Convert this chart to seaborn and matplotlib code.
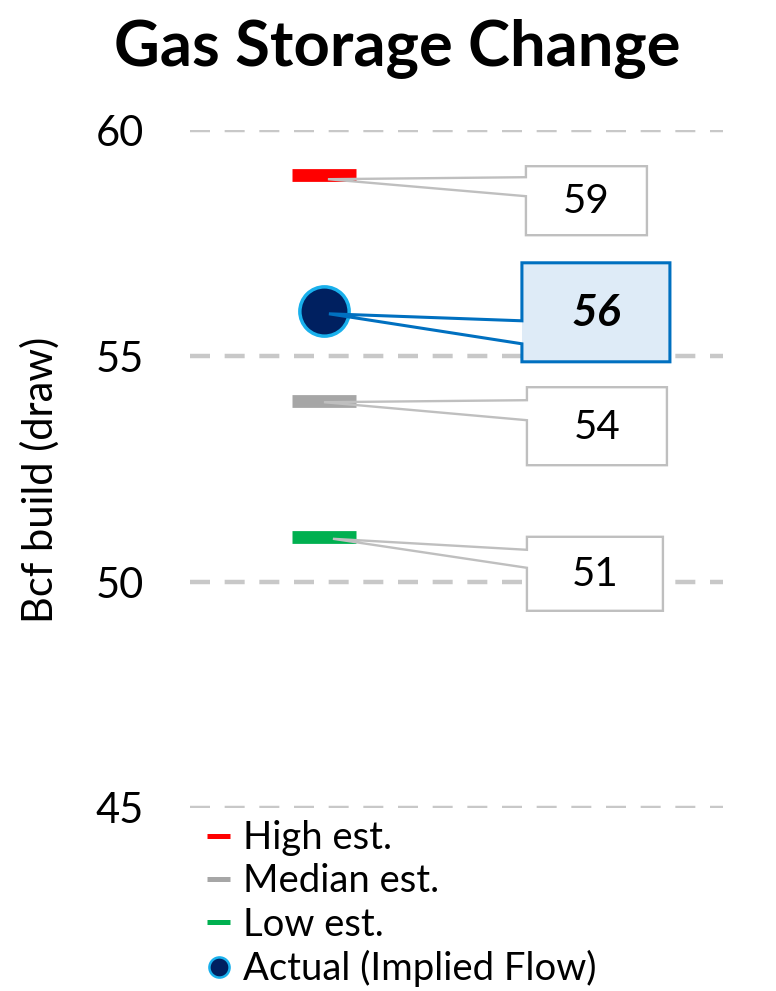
import matplotlib
matplotlib.use("Agg")
import matplotlib.pyplot as plt
import matplotlib.transforms as mtransforms
from matplotlib.patches import Polygon
from matplotlib.lines import Line2D
import seaborn as sns
import pandas as pd

# ---------------- data ----------------
series = ["High est.", "Median est.", "Low est.", "Actual (Implied Flow)"]
values = [59, 54, 51, 56]
value_labels = ["59", "54", "51", "56"]
colors = ["#FF0000", "#A6A6A6", "#00B050", "#002060"]
yticks = [45, 50, 55, 60]
title = "Gas Storage Change"
ylabel = "Bcf build (draw)"

# ---------------- style ----------------
sns.set_theme(style="white")
plt.rcParams["font.family"] = ["Lato", "DejaVu Sans"]
plt.rcParams["text.color"] = "black"
plt.rcParams["ytick.color"] = "black"
plt.rcParams["ytick.labelcolor"] = "black"

W, H = 776, 991
fig = plt.figure(figsize=(W / 100, H / 100), dpi=100)
ax_left, ax_right, ax_top, ax_bot = 190, 723, 130, 808
ax = fig.add_axes([ax_left / W, 1 - ax_bot / H, (ax_right - ax_left) / W, (ax_bot - ax_top) / H])

df = pd.DataFrame({"series": series, "value": values, "x": [0] * len(series)})

# estimate bars (horizontal dash markers)
for i in range(3):
    row = df.iloc[[i]]
    sns.scatterplot(data=row, x="x", y="value", marker="_", s=46 ** 2,
                    color=colors[i], edgecolor=colors[i], linewidth=9.2,
                    legend=False, ax=ax, zorder=2)
# actual point
sns.scatterplot(data=df.iloc[[3]], x="x", y="value", marker="o", s=35.5 ** 2,
                color=colors[3], edgecolor="#19B0EC", linewidth=2.5,
                legend=False, ax=ax, zorder=2)

ax.set_ylim(45, 60)
ax.set_xlim(-1, 2.98)
ax.set_yticks(yticks)
ax.set_yticklabels([str(t) for t in yticks], fontsize=30, color="black")
ax.set_xticks([])
ax.set_xlabel("")
ax.set_ylabel("")
ax.tick_params(axis="y", length=0, pad=33)
for s in ax.spines.values():
    s.set_visible(False)
ax.set_axisbelow(True)
ax.yaxis.grid(True, color="#C8C8C8", linewidth=3.2, linestyle=(0, (4.5, 3.3)))
ax.xaxis.grid(False)
ax.patch.set_alpha(0)

# ---------------- callouts (pixel offsets from each point) ----------------
# (anchor_dx, anchor_dy, box_x0, box_x1, box_top, box_bot, wedge_top, wedge_bot)
callout_geom = [
    (4, -4, 202, 323, 9, -60, -2, -21),
    (0, -1, 203, 343, 14, -64, 1, -19),
    (9, -2, 203, 339, 0, -74, -13, -31),
    (5, -3, 198, 346, 48, -51, -10, -33),
]
for i, v in enumerate(values):
    ax0, ay0, bx0, bx1, bt, bb, wt, wb = callout_geom[i]
    trans = mtransforms.Affine2D() + mtransforms.ScaledTranslation(0, v, ax.transData)
    verts = [(ax0, ay0), (bx0, wt), (bx0, bt), (bx1, bt), (bx1, bb), (bx0, bb), (bx0, wb)]
    if i == 3:
        face, edge, lw = "#DEEBF7", "#0070C0", 2.2
    else:
        face, edge, lw = "white", "#BFBFBF", 1.7
    box = [(bx0, bt), (bx1, bt), (bx1, bb), (bx0, bb)]
    ax.add_patch(Polygon(box, closed=True, facecolor=face, edgecolor="none",
                         transform=trans, zorder=1, clip_on=False))
    ax.add_patch(Polygon(verts, closed=True, fill=False, edgecolor=edge,
                         linewidth=lw, joinstyle="miter", transform=trans,
                         zorder=3, clip_on=False))
    cx, cy = (bx0 + bx1) / 2, (bt + bb) / 2
    if i == 3:
        ax.annotate(value_labels[i], xy=(0, v), xytext=(cx, cy - 1), textcoords="offset pixels",
                    ha="center", va="center", fontsize=32, fontweight="bold",
                    fontstyle="italic", color="black", zorder=4)
    else:
        ax.annotate(value_labels[i], xy=(0, v), xytext=(cx, cy - 1), textcoords="offset pixels",
                    ha="center", va="center", fontsize=29, color="black", zorder=4)

# ---------------- title / labels ----------------
fig.text(397 / W, 1 - 48 / H, title, ha="center", va="center",
         fontsize=45.5, fontweight="bold", color="black")
fig.text(40 / W, 1 - 480 / H, ylabel, ha="center", va="center",
         rotation=90, fontsize=30, color="black")

# ---------------- legend ----------------
handles = [Line2D([], [], color=colors[i], linewidth=3.6, solid_capstyle="butt") for i in range(3)]
handles.append(Line2D([], [], marker="o", linestyle="", markerfacecolor=colors[3],
                      markeredgecolor="#19B0EC", markersize=14.5, markeredgewidth=1.8))
leg = fig.legend(handles, series, loc="upper left", bbox_to_anchor=(207 / W, 1 - 820 / H),
                 frameon=False, fontsize=27.5, handlelength=0.61, handletextpad=0.32,
                 labelspacing=0.19, borderpad=0, borderaxespad=0)
for t in leg.get_texts():
    t.set_color("black")

fig.savefig("out.png", dpi=100)
